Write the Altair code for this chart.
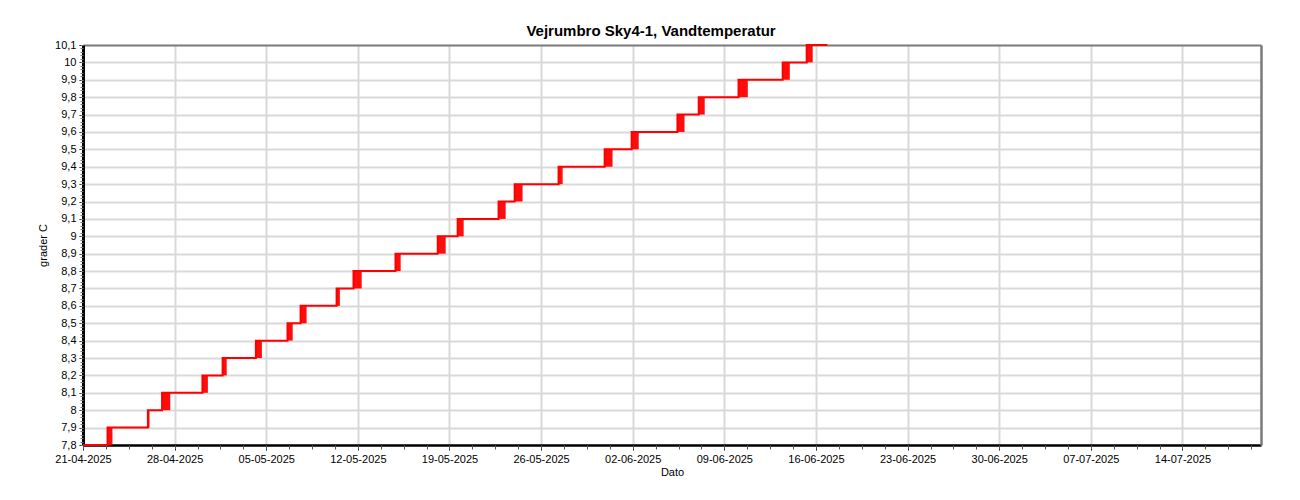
import altair as alt
import pandas as pd
from datetime import datetime, timedelta

# ---- data ----
levels = [7.8, 7.9, 8.0, 8.1, 8.2, 8.3, 8.4, 8.5, 8.6, 8.7, 8.8, 8.9,
          9.0, 9.1, 9.2, 9.3, 9.4, 9.5, 9.6, 9.7, 9.8, 9.9, 10.0, 10.1]
series_start = "2025-04-21 00:00"
series_end = "2025-06-16 21:00"
# each step from levels[i] to levels[i+1] flickers between band_start[i] and band_end[i]
band_start = ["2025-04-22 21:00", "2025-04-25 23:00", "2025-04-27 01:00", "2025-04-30 03:00",
              "2025-05-01 16:00", "2025-05-04 05:00", "2025-05-06 15:00", "2025-05-07 15:00",
              "2025-05-10 09:00", "2025-05-11 16:00", "2025-05-14 21:00", "2025-05-18 02:30",
              "2025-05-19 15:00", "2025-05-22 18:00", "2025-05-23 23:30", "2025-05-27 08:00",
              "2025-05-30 20:30", "2025-06-01 22:00", "2025-06-05 10:00", "2025-06-07 01:00",
              "2025-06-10 02:00", "2025-06-13 11:00", "2025-06-15 07:00"]
band_end = ["2025-04-23 06:00", "2025-04-26 02:00", "2025-04-27 16:00", "2025-04-30 13:00",
            "2025-05-01 23:30", "2025-05-04 16:00", "2025-05-07 00:30", "2025-05-08 02:00",
            "2025-05-10 15:00", "2025-05-12 07:00", "2025-05-15 06:30", "2025-05-18 17:00",
            "2025-05-20 02:00", "2025-05-23 07:00", "2025-05-24 14:00", "2025-05-27 15:30",
            "2025-05-31 11:00", "2025-06-02 11:00", "2025-06-05 23:00", "2025-06-07 12:00",
            "2025-06-10 19:00", "2025-06-14 00:00", "2025-06-15 18:00"]

x_major_labels = ["21-04-2025", "28-04-2025", "05-05-2025", "12-05-2025", "19-05-2025",
                  "26-05-2025", "02-06-2025", "09-06-2025", "16-06-2025", "23-06-2025",
                  "30-06-2025", "07-07-2025", "14-07-2025"]

title_text = "Vejrumbro Sky4-1, Vandtemperatur"
y_title = "grader C"
x_title = "Dato"

# ---- tables ----
line_df = pd.DataFrame({
    "t": [series_start] + band_start + [series_end],
    "v": levels + [levels[-1]],
})
band_df = pd.DataFrame({
    "t0": band_start,
    "t1": band_end,
    "v0": levels[:-1],
    "v1": levels[1:],
})

def dt(d):
    return alt.DateTime(year=d.year, month=d.month, date=d.day, hours=d.hour, minutes=d.minute)

major_dates = [datetime.strptime(s, "%d-%m-%Y") for s in x_major_labels]
major_vals = [dt(d) for d in major_dates]
t0 = datetime(2025, 4, 21)
minor_vals = [dt(t0 + timedelta(hours=42 * k)) for k in range(0, 52)]
y_minor = [round(7.8 + 0.02 * k, 2) for k in range(0, 116)]

FONT = "Liberation Sans"
xscale = alt.Scale(domain=[alt.DateTime(year=2025, month=4, date=21),
                           alt.DateTime(year=2025, month=7, date=20)], nice=False)
yscale = alt.Scale(domain=[7.8, 10.1], nice=False, zero=False)

ylabel = "replace(format(datum.value, '.1~f'), '.', ',')"

x_main = alt.X("t0:T", scale=xscale, title=x_title,
               axis=alt.Axis(orient="bottom", values=major_vals, format="%d-%m-%Y",
                             grid=True, gridColor="#d9d9d9", gridWidth=2,
                             domainColor="black", domainWidth=2.5,
                             tickColor="black", tickSize=5, tickWidth=1,
                             labelFont=FONT, labelFontSize=11, labelColor="black",
                             labelPadding=3, labelFlush=False,
                             titleFont=FONT, titleFontSize=11, titleFontWeight="normal",
                             titleColor="black", titlePadding=2))
y_main = alt.Y("v0:Q", scale=yscale, title=y_title,
               axis=alt.Axis(orient="left", values=levels, labelExpr=ylabel,
                             grid=True,
                             gridColor={"condition": {"test": "datum.value > 10.05", "value": "#7a7a7a"},
                                        "value": "#d9d9d9"},
                             gridWidth=2,
                             domainColor="black", domainWidth=3,
                             tickColor="black", tickSize=4, tickWidth=1,
                             labelFont=FONT, labelFontSize=11, labelColor="black",
                             labelPadding=3,
                             titleFont=FONT, titleFontSize=11, titleFontWeight="normal",
                             titleColor="black", titlePadding=6))

bands = alt.Chart(band_df).mark_rect(color="#ff0000", opacity=0.95).encode(
    x=x_main, x2="t1:T", y=y_main, y2="v1:Q"
)

line = alt.Chart(line_df).mark_line(interpolate="step-after", color="#ff0000", strokeWidth=2).encode(
    x=alt.X("t:T", scale=xscale, axis=None),
    y=alt.Y("v:Q", scale=yscale, axis=None),
)

minor = alt.Chart(line_df).mark_line(opacity=0).encode(
    x=alt.X("t:T", scale=xscale, title=None,
            axis=alt.Axis(orient="bottom", values=minor_vals, labels=False, grid=False,
                          domain=False, tickColor="#555555", tickSize=4, tickWidth=1)),
    y=alt.Y("v:Q", scale=yscale, title=None,
            axis=alt.Axis(orient="left", values=y_minor, labels=False, grid=False,
                          domain=False, tickColor="#777777", tickSize=3, tickWidth=1)),
)

border = alt.Chart(line_df).mark_line(opacity=0).encode(
    x=alt.X("t:T", scale=xscale, axis=None),
    y=alt.Y("v:Q", scale=yscale, title=None,
            axis=alt.Axis(orient="right", labels=False, grid=False, ticks=False,
                          domain=True, domainColor="#7a7a7a", domainWidth=2.5)),
)

chart = alt.layer(bands, line, minor, border).resolve_axis(x="independent", y="independent").properties(
    width=1178,
    height=400,
    autosize=alt.AutoSizeParams(type="none"),
    padding={"left": 75, "top": 37, "right": 30, "bottom": 47},
    title=alt.TitleParams(text=title_text, font=FONT, fontSize=15, fontWeight="bold",
                          color="black", anchor="middle", offset=0, dx=-21),
).configure_view(stroke="#7a7a7a", strokeWidth=2.5).configure(background="white")

chart.save("out.html", embed_options={"renderer": "svg", "actions": False})
